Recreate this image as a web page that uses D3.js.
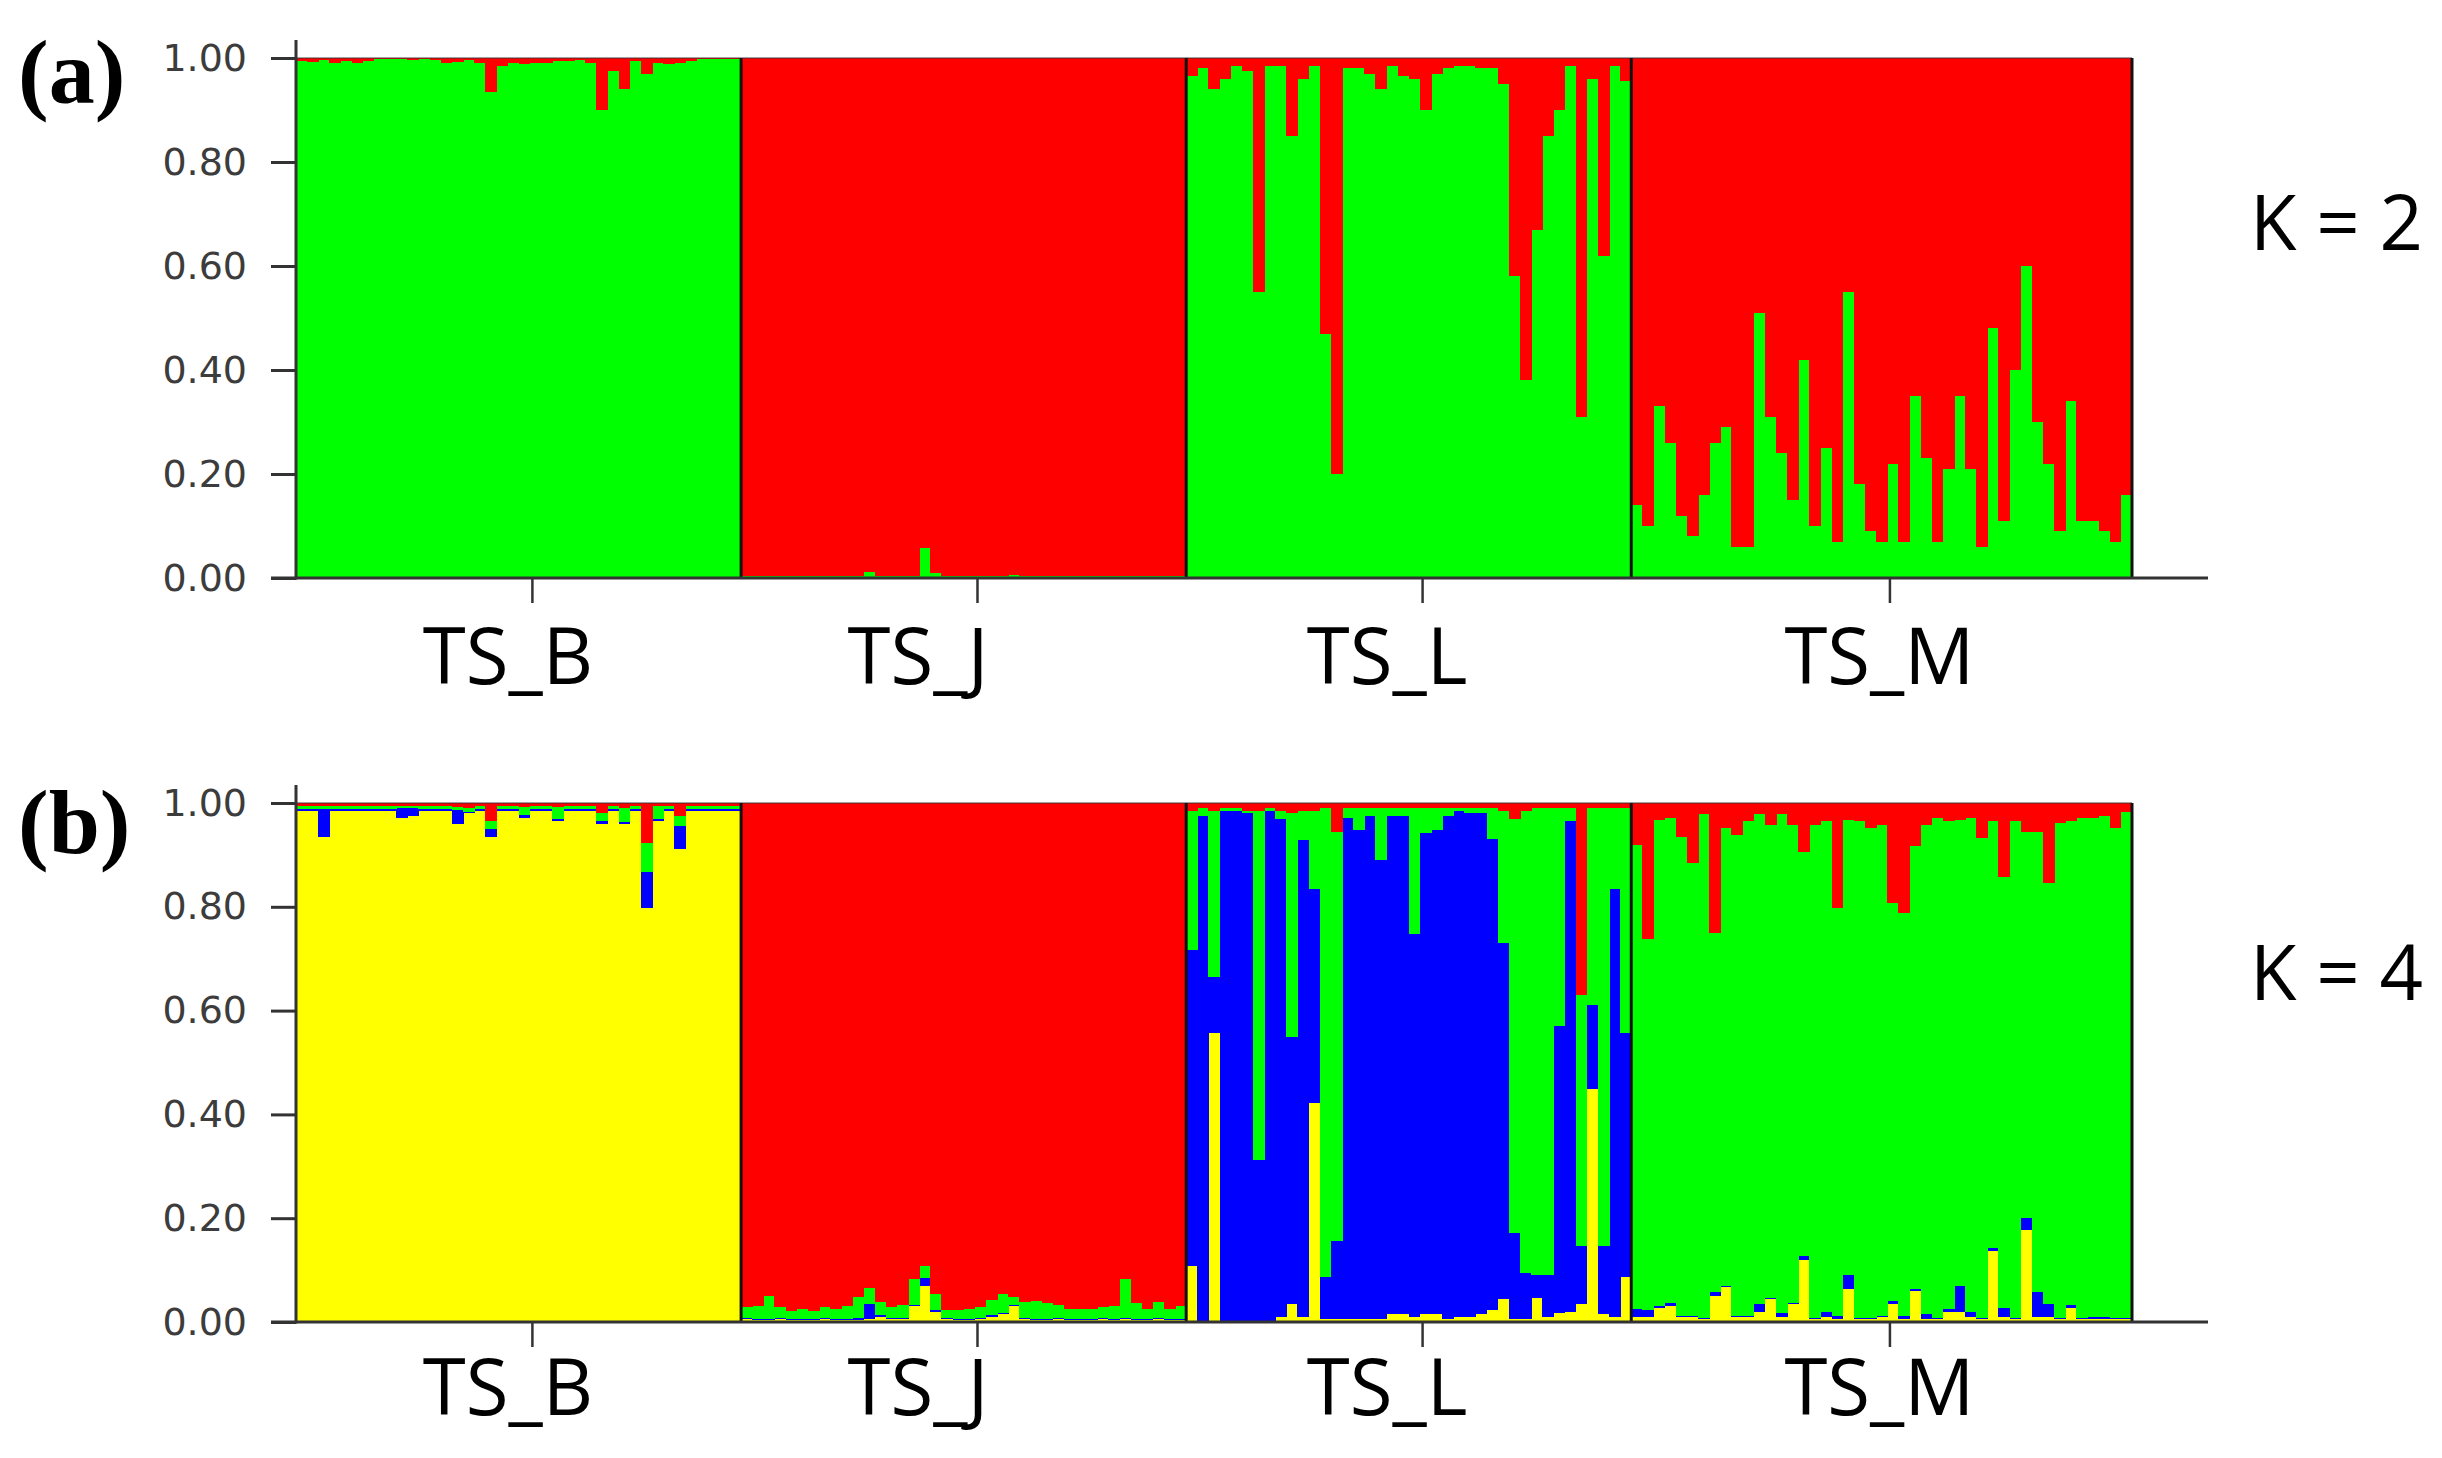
<!DOCTYPE html>
<html>
<head>
<meta charset="utf-8">
<script src="https://cdn.jsdelivr.net/npm/d3@7"></script>
<style>
  html, body { margin: 0; padding: 0; background: #ffffff; }
  svg { display: block; }
</style>
</head>
<body>
<script>
// ---------------- DATA ----------------
const groups = ["TS_B", "TS_J", "TS_L", "TS_M"];
const yTicks = [0, 0.2, 0.4, 0.6, 0.8, 1.0];
const panelLetters = ["(a)", "(b)"];
const kLabels = ["K = 2", "K = 4"];

// K = 2 : proportion of the green cluster per individual (rest is red)
const k2Green_TS_B = [0.995,0.993,0.996,0.99,0.994,0.99,0.995,0.998,0.998,0.998,0.997,0.998,0.997,0.99,0.992,0.997,0.99,0.935,0.985,0.99,0.988,0.99,0.99,0.995,0.994,0.997,0.99,0.90,0.975,0.94,0.995,0.97,0.99,0.988,0.99,0.995,0.998,0.998,0.998,0.998];
const k2Green_TS_J = [0.003,0.003,0.003,0.003,0.003,0.003,0.003,0.003,0.003,0.003,0.003,0.012,0.003,0.003,0.003,0.003,0.057,0.010,0.003,0.003,0.003,0.003,0.003,0.003,0.006,0.003,0.003,0.003,0.003,0.003,0.003,0.003,0.003,0.003,0.003,0.003,0.003,0.003,0.003,0.003];
const k2Green_TS_L = [0.965,0.98,0.94,0.96,0.985,0.975,0.55,0.985,0.985,0.85,0.96,0.985,0.47,0.20,0.98,0.98,0.97,0.94,0.985,0.965,0.96,0.90,0.97,0.98,0.985,0.985,0.98,0.98,0.95,0.58,0.38,0.67,0.85,0.90,0.985,0.31,0.96,0.62,0.985,0.955];
const k2Green_TS_M = [0.14,0.10,0.33,0.26,0.12,0.08,0.16,0.26,0.29,0.06,0.06,0.51,0.31,0.24,0.15,0.42,0.10,0.25,0.07,0.55,0.18,0.09,0.07,0.22,0.07,0.35,0.23,0.07,0.21,0.35,0.21,0.06,0.48,0.11,0.40,0.60,0.30,0.22,0.09,0.34,0.11,0.11,0.09,0.07,0.16];

// K = 4 : yellow, blue, green proportions per individual (rest is red)
const k4Yellow_TS_B = [0.985,0.985,0.935,0.985,0.985,0.985,0.985,0.985,0.985,0.972,0.975,0.985,0.985,0.985,0.959,0.98,0.985,0.935,0.985,0.985,0.972,0.985,0.985,0.965,0.985,0.985,0.985,0.959,0.985,0.959,0.985,0.798,0.965,0.985,0.912,0.985,0.985,0.985,0.985,0.985];
const k4Blue_TS_B   = [0.003,0.003,0.054,0.003,0.003,0.003,0.003,0.003,0.003,0.018,0.015,0.003,0.003,0.003,0.027,0.003,0.003,0.014,0.003,0.003,0.004,0.003,0.003,0.004,0.003,0.003,0.003,0.007,0.003,0.004,0.003,0.070,0.005,0.003,0.043,0.003,0.003,0.003,0.003,0.003];
const k4Green_TS_B  = [0.007,0.007,0.006,0.007,0.007,0.007,0.007,0.007,0.007,0.005,0.005,0.007,0.007,0.007,0.006,0.007,0.007,0.017,0.007,0.007,0.016,0.007,0.007,0.024,0.007,0.007,0.007,0.014,0.007,0.027,0.007,0.054,0.025,0.007,0.020,0.007,0.007,0.007,0.007,0.007];

const k4Yellow_TS_J = [0.005,0.003,0.003,0.005,0.003,0.003,0.003,0.005,0.003,0.003,0.003,0.005,0.01,0.005,0.005,0.03,0.07,0.02,0.005,0.003,0.003,0.005,0.01,0.015,0.03,0.005,0.003,0.003,0.005,0.003,0.003,0.003,0.005,0.003,0.005,0.003,0.003,0.005,0.003,0.003];
const k4Blue_TS_J   = [0.003,0.003,0.003,0.003,0.003,0.003,0.003,0.003,0.003,0.003,0.005,0.03,0.003,0.003,0.003,0.003,0.015,0.003,0.003,0.003,0.003,0.003,0.003,0.003,0.003,0.003,0.003,0.003,0.003,0.003,0.003,0.003,0.003,0.003,0.003,0.003,0.003,0.003,0.003,0.003];
const k4Green_TS_J  = [0.02,0.025,0.045,0.02,0.015,0.02,0.015,0.02,0.02,0.025,0.04,0.03,0.025,0.02,0.025,0.05,0.022,0.03,0.015,0.018,0.02,0.02,0.03,0.035,0.015,0.03,0.035,0.03,0.025,0.02,0.02,0.02,0.02,0.025,0.075,0.03,0.02,0.03,0.02,0.025];

const k4Yellow_TS_L = [0.107,0.0,0.556,0.0,0.0,0.0,0.0,0.0,0.01,0.034,0.01,0.422,0.005,0.005,0.005,0.005,0.005,0.005,0.015,0.015,0.01,0.015,0.015,0.005,0.01,0.01,0.015,0.023,0.044,0.005,0.005,0.047,0.01,0.017,0.02,0.034,0.449,0.015,0.01,0.087];
const k4Blue_TS_L   = [0.61,0.975,0.108,0.985,0.985,0.98,0.312,0.985,0.96,0.516,0.918,0.412,0.082,0.152,0.967,0.943,0.97,0.886,0.96,0.96,0.737,0.927,0.933,0.97,0.975,0.97,0.965,0.907,0.686,0.166,0.089,0.043,0.08,0.553,0.945,0.113,0.161,0.132,0.824,0.469];
const k4Green_TS_L  = [0.268,0.015,0.321,0.005,0.005,0.005,0.673,0.005,0.015,0.43,0.057,0.151,0.903,0.788,0.018,0.042,0.015,0.099,0.015,0.015,0.243,0.048,0.042,0.015,0.005,0.01,0.01,0.06,0.255,0.799,0.891,0.90,0.90,0.42,0.025,0.483,0.38,0.843,0.156,0.434];

const k4Yellow_TS_M = [0.01,0.01,0.027,0.03,0.01,0.01,0.005,0.05,0.067,0.01,0.01,0.02,0.044,0.01,0.034,0.12,0.005,0.01,0.005,0.064,0.005,0.005,0.01,0.034,0.005,0.06,0.005,0.005,0.02,0.02,0.01,0.005,0.137,0.01,0.005,0.178,0.01,0.01,0.005,0.027,0.005,0.005,0.005,0.005,0.005];
const k4Blue_TS_M   = [0.015,0.013,0.003,0.007,0.002,0.002,0.002,0.007,0.003,0.002,0.002,0.014,0.003,0.007,0.003,0.007,0.002,0.01,0.007,0.026,0.002,0.002,0.002,0.006,0.007,0.004,0.01,0.002,0.005,0.05,0.01,0.002,0.006,0.017,0.002,0.023,0.047,0.024,0.002,0.005,0.002,0.005,0.005,0.002,0.002];
const k4Green_TS_M  = [0.895,0.714,0.938,0.935,0.923,0.873,0.972,0.693,0.882,0.926,0.953,0.945,0.911,0.962,0.921,0.778,0.951,0.945,0.786,0.878,0.958,0.945,0.946,0.768,0.776,0.854,0.943,0.965,0.94,0.898,0.952,0.925,0.822,0.831,0.958,0.744,0.888,0.811,0.955,0.933,0.965,0.962,0.965,0.945,0.975];

const k2Series = [
  { green: k2Green_TS_B },
  { green: k2Green_TS_J },
  { green: k2Green_TS_L },
  { green: k2Green_TS_M }
];
const k4Series = [
  { yellow: k4Yellow_TS_B, blue: k4Blue_TS_B, green: k4Green_TS_B },
  { yellow: k4Yellow_TS_J, blue: k4Blue_TS_J, green: k4Green_TS_J },
  { yellow: k4Yellow_TS_L, blue: k4Blue_TS_L, green: k4Green_TS_L },
  { yellow: k4Yellow_TS_M, blue: k4Blue_TS_M, green: k4Green_TS_M }
];

// ---------------- BUILD ROWS ----------------
function buildRows(series, keys) {
  const rows = [];
  series.forEach((s, gi) => {
    const n = s[keys[0]].length;
    for (let i = 0; i < n; i++) {
      const r = { id: rows.length, group: gi };
      let sum = 0;
      keys.forEach(k => { r[k] = s[k][i]; sum += s[k][i]; });
      r.red = Math.max(0, 1 - sum);
      rows.push(r);
    }
  });
  return rows;
}
const k2Rows = buildRows(k2Series, ["green"]);
const k4Rows = buildRows(k4Series, ["yellow", "blue", "green"]);
const groupSizes = k2Series.map(s => s.green.length);
const groupStarts = groupSizes.map((d, i) => d3.sum(groupSizes.slice(0, i)));
const N = d3.sum(groupSizes);

// ---------------- LAYOUT ----------------
const W = 2442, H = 1458;
const plotLeft = 296, plotRight = 2132, axisRight = 2208;
const colors = { red: "#ff0000", green: "#00ff00", blue: "#0000ff", yellow: "#ffff00" };
const labelShift = [-24, -59, -35, -10];

const panels = [
  { rows: k2Rows, keys: ["green", "red"], top: 58, bottom: 578, labelBase: 684, letterBase: 103, kBase: 250 },
  { rows: k4Rows, keys: ["yellow", "blue", "green", "red"], top: 803, bottom: 1322, labelBase: 1415, letterBase: 853, kBase: 1000 }
];

const svg = d3.select("body").append("svg").attr("width", W).attr("height", H);

const x = d3.scaleBand().domain(d3.range(N)).range([plotLeft, plotRight]).paddingInner(0).paddingOuter(0);
const bw = x.bandwidth();

panels.forEach((p, pi) => {
  const y = d3.scaleLinear().domain([0, 1]).range([p.bottom, p.top]);
  const g = svg.append("g");

  // stacked bars
  const stacked = d3.stack().keys(p.keys)(p.rows);
  stacked.forEach(layer => {
    g.append("g").attr("fill", colors[layer.key]).attr("shape-rendering", "crispEdges")
      .selectAll("rect").data(layer).join("rect")
      .attr("x", d => x(d.data.id))
      .attr("width", bw + 0.6)
      .attr("y", d => y(Math.min(1, d[1])))
      .attr("height", d => Math.max(0, y(d[0]) - y(Math.min(1, d[1]))));
  });

  // top thin line
  g.append("line").attr("x1", plotLeft).attr("x2", plotRight)
    .attr("y1", y(1)).attr("y2", y(1)).attr("stroke", "#333").attr("stroke-width", 1.5).attr("opacity", 0.6);

  // group separators + right edge
  const seps = groupStarts.slice(1).map(s => x(s)).concat([plotRight]);
  g.selectAll("line.sep").data(seps).join("line").attr("class", "sep")
    .attr("x1", d => d).attr("x2", d => d).attr("y1", y(1)).attr("y2", y(0))
    .attr("stroke", "#111").attr("stroke-width", 3);

  // y axis
  const yAxis = d3.axisLeft(y).tickValues(yTicks).tickFormat(d3.format(".2f")).tickSize(25).tickPadding(24);
  const ya = g.append("g").attr("transform", `translate(${plotLeft},0)`).call(yAxis);
  ya.select(".domain").remove();
  ya.selectAll(".tick line").attr("stroke", "#333").attr("stroke-width", 3);
  ya.selectAll(".tick text").attr("font-family", "DejaVu Sans").attr("font-size", 38).attr("fill", "#3c3c3c");
  g.append("line").attr("x1", plotLeft).attr("x2", plotLeft).attr("y1", y(1) - 18).attr("y2", y(0) + 1.5)
    .attr("stroke", "#333").attr("stroke-width", 3);

  // x axis
  const tickPos = groups.map((gname, i) => x(groupStarts[i] + Math.floor(groupSizes[i] / 2) + 1) + 0.2 * bw);
  const xTickScale = d3.scaleOrdinal().domain(groups).range(tickPos);
  const xAxis = d3.axisBottom(xTickScale).tickSize(25).tickFormat("");
  const xa = g.append("g").attr("transform", `translate(0,${p.bottom})`).call(xAxis);
  xa.select(".domain").remove();
  xa.selectAll(".tick line").attr("stroke", "#333").attr("stroke-width", 2.5);
  g.append("line").attr("x1", plotLeft - 25).attr("x2", axisRight).attr("y1", p.bottom).attr("y2", p.bottom)
    .attr("stroke", "#333").attr("stroke-width", 3);

  // group labels
  g.selectAll("text.glab").data(groups).join("text").attr("class", "glab")
    .attr("x", (d, i) => tickPos[i] + labelShift[i])
    .attr("y", p.labelBase)
    .attr("text-anchor", "middle")
    .attr("font-family", "Open Sans").attr("font-size", 78).attr("fill", "#000")
    .text(d => d);

  // panel letter
  svg.append("text").attr("x", 18).attr("y", p.letterBase)
    .attr("font-family", "Liberation Serif").attr("font-weight", "bold").attr("font-size", 92).attr("fill", "#000")
    .text(panelLetters[pi]);

  // K label
  svg.append("text").attr("x", 2250).attr("y", p.kBase)
    .attr("font-family", "Open Sans").attr("font-size", 76).attr("fill", "#000")
    .text(kLabels[pi]);
});
</script>
</body>
</html>
